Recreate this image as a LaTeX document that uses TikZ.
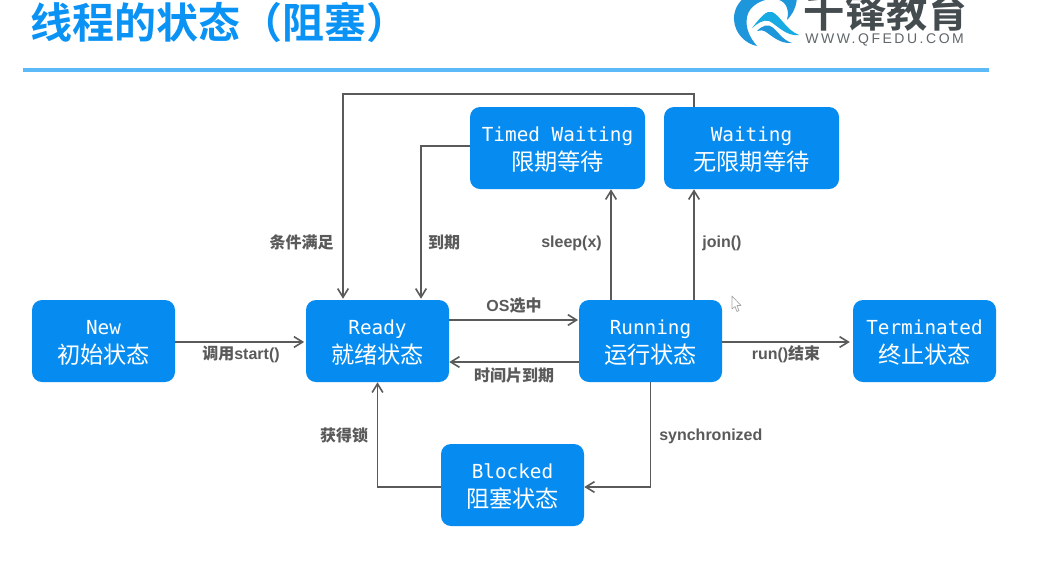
\documentclass[tikz,border=0pt]{standalone}
\usepackage{fontspec}
\setmainfont{Liberation Sans}
\newfontfamily\cjk{Noto Sans CJK SC}
\newfontfamily\cjkb{Noto Sans CJK SC Bold}
\newfontfamily\monof{DejaVu Sans Mono}
\newfontfamily\webf[LetterSpace=18]{Liberation Sans}
\usetikzlibrary{calc,arrows.meta}
\definecolor{boxblue}{HTML}{068CF0}
\definecolor{titleblue}{HTML}{0A93F5}
\definecolor{rulecol}{HTML}{5CBAF9}
\definecolor{linecol}{HTML}{5A5A5A}
\definecolor{logogrey}{HTML}{444C50}
\definecolor{logoblue}{HTML}{1E96DC}
\tikzset{
  statebox/.style={fill=boxblue,rounded corners=7.5pt,minimum height=61.5pt,text=white,align=center,inner sep=0pt,font=\fontsize{14.5}{20.5}\selectfont},
  narrow/.style={statebox,minimum width=107.25pt},
  wide/.style={statebox,minimum width=131.25pt},
  conn/.style={draw=linecol,line width=1.35pt,-{Straight Barb[length=6.5pt,width=8pt,line width=1.2pt]}},
  lab/.style={text=linecol,font=\fontsize{12}{14}\selectfont\bfseries,inner sep=0pt},
}
\newcommand{\st}[2]{\raisebox{-1.8pt}[12pt][4pt]{\monof #1}\\[0.4pt]\raisebox{-2.6pt}[15pt][4pt]{\cjk\fontsize{17.4}{20.5}\selectfont #2}}
\newcommand{\cb}[1]{{\cjkb #1}}
\begin{document}
\begin{tikzpicture}[x=0.75pt,y=-0.75pt]
\useasboundingbox (0,0) rectangle (1045,565);
\clip (0,0) rectangle (1045,565);
\fill[white] (0,0) rectangle (1045,565);
% title and rule
\node[anchor=west,inner sep=0pt,text=titleblue,font=\fontsize{31.5}{36}\selectfont\cjkb] (title) at (30.5,22) {线程的状态（阻塞）};
\fill[rulecol] (23,68) rectangle (989,72);
% logo
\fill[logoblue] (775,-12) .. controls (746,-12) and (733,5) .. (734,20) .. controls (735,34) and (746,44) .. (757,46) .. controls (750,38) and (745,28) .. (747,17) .. controls (749,5) and (764,-2) .. (775,-1) .. controls (785,0) and (790,8) .. (787,20) .. controls (795,12) and (799,0) .. (796,-12) -- cycle;
\fill[logoblue!80!cyan] (752,28) .. controls (760,18) and (766,10) .. (772,12) .. controls (780,15) and (786,30) .. (799,35) .. controls (786,37) and (776,24) .. (769,21) .. controls (763,19) and (757,24) .. (752,28) -- cycle;
\fill[logoblue] (757,31) .. controls (763,25) and (768,24) .. (772,27) .. controls (778,31) and (782,40) .. (792,43) .. controls (780,44) and (772,36) .. (766,32) .. controls (763,30) and (760,30) .. (757,31) -- cycle;
\node[anchor=base west,inner sep=0pt,text=logogrey,font=\fontsize{31}{36}\selectfont\cjkb] (logotext) at (803.5,27) {千锋教育};
\node[anchor=base west,inner sep=0pt,text=logogrey!85,font=\fontsize{10.5}{12}\selectfont\webf] (logoweb) at (805,43) {WWW.QFEDU.COM};
% states
\node[narrow] (New) at (103.5,341) {\st{New}{初始状态}};
\node[narrow] (Ready) at (377.5,341) {\st{Ready}{就绪状态}};
\node[narrow] (Running) at (650.5,341) {\st{Running}{运行状态}};
\node[narrow] (Terminated) at (924.5,341) {\st{Terminated}{终止状态}};
\node[narrow] (Blocked) at (512.5,485) {\st{Blocked}{阻塞状态}};
\node[wide] (Timed) at (557.5,148) {\st{Timed Waiting}{限期等待}};
\node[wide] (Waiting) at (751.5,148) {\st{Waiting}{无限期等待}};
% connectors
\draw[conn,shorten >=1.2pt] ($(New.east)+(0,1)$) -- ($(Ready.west)+(0,1)$);
\draw[conn,shorten >=0.5pt] ($(Ready.east)+(0,-21)$) -- ($(Running.west)+(0,-21)$);
\draw[conn] ($(Running.west)+(0,21)$) -- ($(Ready.east)+(0,21)$);
\draw[conn,shorten >=2.2pt] ($(Running.east)+(0,1)$) -- ($(Terminated.west)+(0,1)$);
\draw[conn] (Running.south) |- ($(Blocked.east)+(0,2)$);
\draw[conn] ($(Blocked.west)+(0,2)$) -| (Ready.south);
\draw[conn] ($(Running.north)+(-39.5,0)$) -- ($(Timed.south)+(53.5,0)$);
\draw[conn] ($(Running.north)+(43.5,0)$) -- ($(Waiting.south)+(-57.5,0)$);
\draw[conn] ($(Timed.west)+(0,-2)$) -| ($(Ready.north)+(43.5,-1)$);
\draw[conn] ($(Waiting.north)+(-57.5,0)$) -- ++(0,-13) -| ($(Ready.north)+(-34.5,-1)$);
% connector labels
\node[lab] (l1) at (241,354) {\cb{调用}start()};
\node[lab] (l2) at (514,306) {OS\cb{选中}};
\node[lab] (l3) at (514,375.5) {\cb{时间片到期}};
\node[lab] (l4) at (786,354.5) {run()\cb{结束}};
\node[lab,anchor=west] (l5) at (659,436) {synchronized};
\node[lab] (l6) at (344,435.5) {\cb{获得锁}};
\node[lab] (l7) at (301.5,242) {\cb{条件满足}};
\node[lab] (l8) at (444,242) {\cb{到期}};
\node[lab] (l9) at (571.5,243) {sleep(x)};
\node[lab] (l10) at (722,243) {join()};
% mouse pointer
\draw[draw=gray!70,fill=white,line width=.5pt,line join=round] (732,296) -- (732,309) -- (735,306.5) -- (737,311.5) -- (739,310.5) -- (737,305.5) -- (741,305.5) -- cycle;
\end{tikzpicture}
\end{document}
